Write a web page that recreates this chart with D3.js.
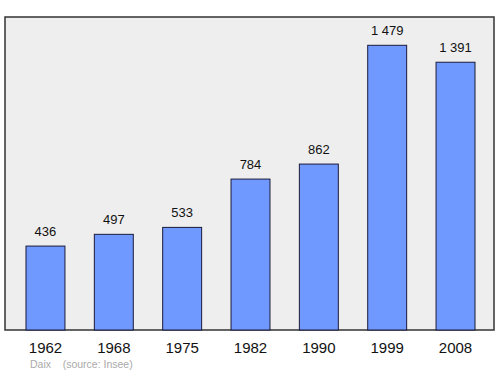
<!DOCTYPE html>
<html><head><meta charset="utf-8">
<script src="https://cdn.jsdelivr.net/npm/d3@7"></script>
<style>body{margin:0;background:#fff}svg{display:block}</style>
</head><body>
<svg id="c" width="500" height="374"></svg>
<script>
const years = ["1962","1968","1975","1982","1990","1999","2008"];
const population = [436, 497, 533, 784, 862, 1479, 1391];
const valueLabels = ["436","497","533","784","862","1 479","1 391"];
const sourceText = "Daix    (source: Insee)";

const svg = d3.select("#c");
const box = {x0: 5, y0: 17, x1: 494, y1: 330};

svg.append("rect").attr("x", box.x0).attr("y", box.y0)
  .attr("width", box.x1 - box.x0).attr("height", box.y1 - box.y0)
  .attr("fill", "#eeeeee").attr("stroke", "#333").attr("stroke-width", 1.5);

const x = d3.scaleBand().domain(years).range([11.3, 489.7])
  .paddingInner(0.43).paddingOuter(0.215);
const y = d3.scaleLinear().domain([0, 1626]).range([box.y1, box.y0]);

const g = svg.append("g");
g.selectAll("rect.bar").data(years).join("rect").attr("class","bar")
  .attr("x", d => x(d)).attr("width", x.bandwidth())
  .attr("y", (d,i) => y(population[i])).attr("height", (d,i) => box.y1 - y(population[i]))
  .attr("fill", "#7099ff").attr("stroke", "#1a1a3a").attr("stroke-width", 1);

g.selectAll("text.val").data(years).join("text").attr("class","val")
  .attr("x", d => x(d) + x.bandwidth()/2).attr("y", (d,i) => y(population[i]) - 10.5)
  .attr("text-anchor","middle").attr("font-family","Liberation Sans, Arial, sans-serif")
  .attr("font-size", 13).attr("fill","#111").text((d,i) => valueLabels[i]);

const axis = d3.axisBottom(x).tickSize(0).tickPadding(0);
const ax = svg.append("g").attr("transform", `translate(0,${box.y1})`).call(axis);
ax.select(".domain").remove();
ax.selectAll("text").attr("dy", null).attr("y", 22.5)
  .attr("font-family","Liberation Sans, Arial, sans-serif").attr("font-size", 15).attr("fill","#111");

svg.append("text").attr("x", 30).attr("y", 368)
  .attr("font-family","Liberation Sans, Arial, sans-serif").attr("font-size", 10.5)
  .attr("fill","#aaa").attr("xml:space","preserve").style("white-space","pre").text(sourceText);
</script>
</body></html>
